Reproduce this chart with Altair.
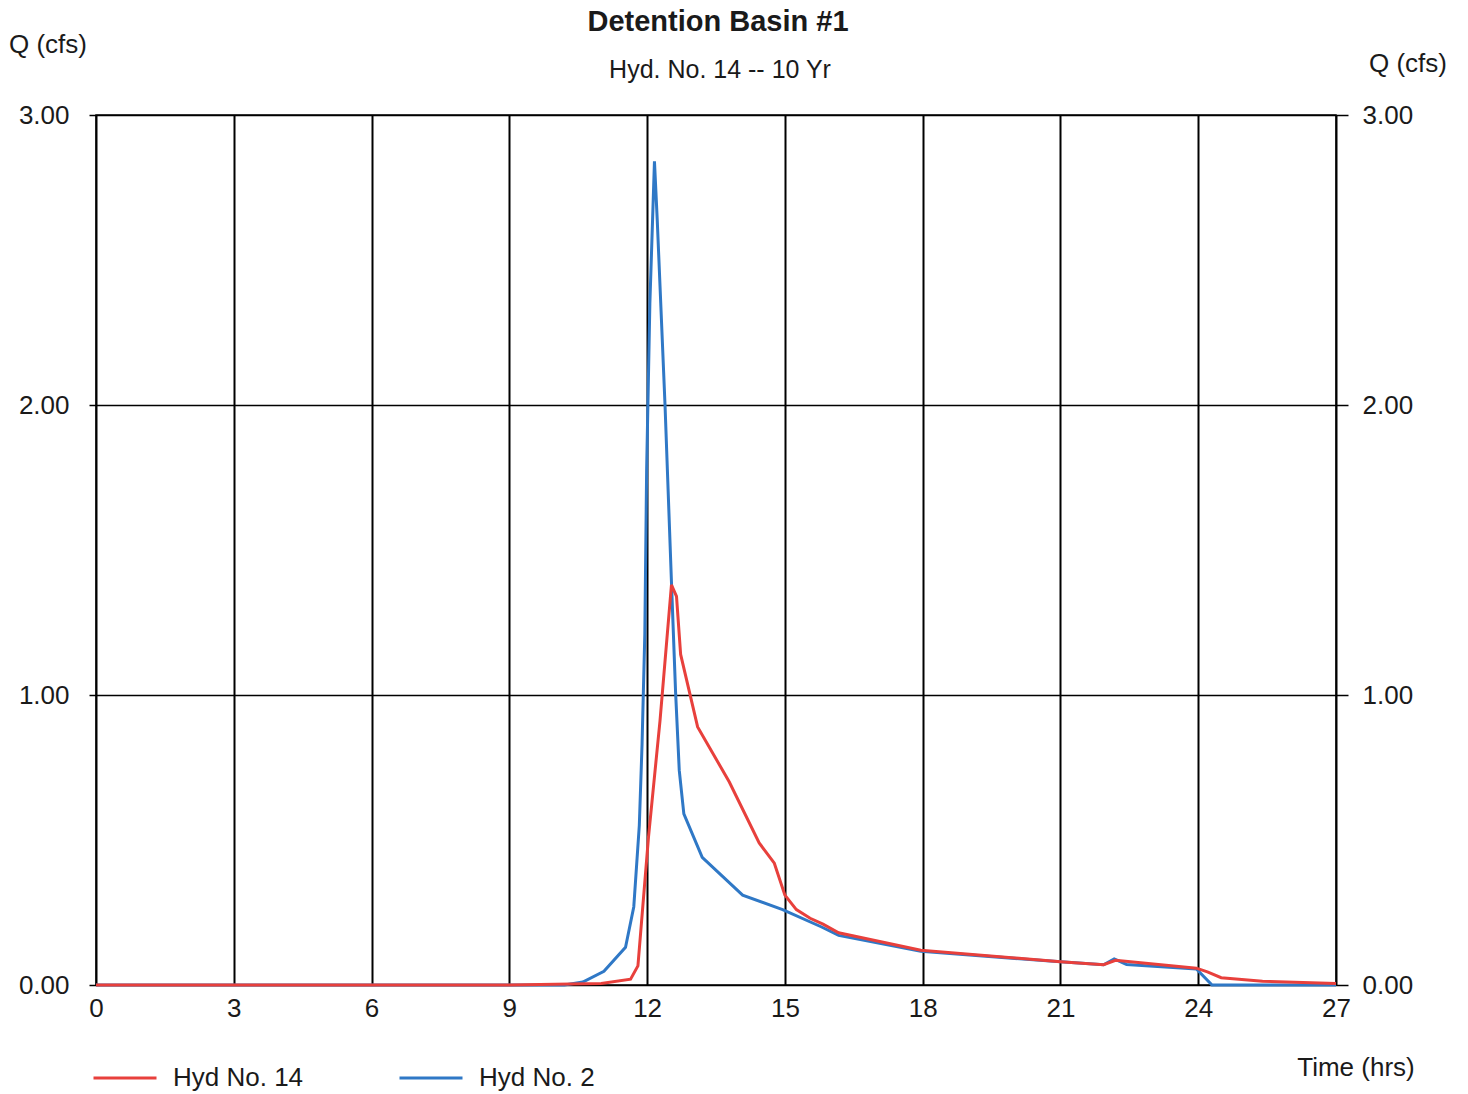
import altair as alt
import pandas as pd

# ---- data ----
series_names = ["Hyd No. 14", "Hyd No. 2"]
series_colors = ["#e8403c", "#2f78c6"]

hours_blue = [0, 3, 6, 9, 10.2, 10.6, 11.06, 11.53, 11.71, 11.83, 11.89, 11.95, 11.99,
              12.06, 12.16, 12.22, 12.39, 12.53, 12.62, 12.7, 12.8, 13.2, 14.08, 14.95,
              15.8, 16.17, 17.96, 21.0, 21.94, 22.17, 22.44, 23.96, 24.3, 27]
q_blue = [0, 0, 0, 0, 0, 0.01, 0.047, 0.13, 0.27, 0.55, 0.83, 1.21, 1.78,
          2.35, 2.84, 2.64, 2.0, 1.39, 1.01, 0.74, 0.59, 0.44, 0.31, 0.26,
          0.20, 0.171, 0.116, 0.08, 0.07, 0.09, 0.071, 0.055, 0.0, 0.0]

hours_red = [0, 9, 11.0, 11.64, 11.8, 12.03, 12.28, 12.53, 12.64, 12.73, 13.1, 13.79,
             14.44, 14.77, 15.0, 15.25, 15.55, 15.83, 16.17, 17.96, 21.0, 21.94, 22.2,
             23.96, 24.2, 24.5, 25.4, 27]
q_red = [0, 0, 0.005, 0.02, 0.066, 0.51, 0.91, 1.38, 1.34, 1.14, 0.89, 0.70,
         0.49, 0.42, 0.31, 0.26, 0.23, 0.21, 0.18, 0.12, 0.08, 0.07, 0.085,
         0.058, 0.045, 0.025, 0.013, 0.005]

x_ticks = [0, 3, 6, 9, 12, 15, 18, 21, 24, 27]
y_ticks = [0, 1, 2, 3]

title_text = "Detention Basin #1"
subtitle_text = "Hyd. No. 14 -- 10 Yr"
y_title = "Q (cfs)"
x_title = "Time (hrs)"

FONT = "Liberation Sans"
W, H = 1240, 870
TXT = "#1a1a1a"

df = pd.concat([
    pd.DataFrame({"hour": hours_blue, "q": q_blue, "series": series_names[1], "k": 0}),
    pd.DataFrame({"hour": hours_red, "q": q_red, "series": series_names[0], "k": 1}),
], ignore_index=True)

xscale = alt.Scale(domain=[0, 27], nice=False, zero=False)
yscale = alt.Scale(domain=[0, 3], nice=False, zero=True)
xaxis = alt.Axis(values=x_ticks, title=None, grid=True, gridColor="black",
                 gridWidth=2, gridOpacity=1, ticks=False, domain=False,
                 labelFont=FONT, labelFontSize=26, labelColor=TXT,
                 labelPadding=10, labelFlush=False)

lines = alt.Chart(df).mark_line(strokeWidth=3).encode(
    x=alt.X("hour:Q", scale=xscale, axis=xaxis),
    y=alt.Y("q:Q", scale=yscale,
            axis=alt.Axis(values=y_ticks, format=".2f", title=None, orient="left",
                          grid=True, gridColor="black", gridWidth=1.5, gridOpacity=1,
                          domain=False, ticks=True, tickSize=7, tickColor="black",
                          tickWidth=1.5, labelFont=FONT, labelFontSize=26,
                          labelColor=TXT, labelPadding=20, labelFlush=False)),
    color=alt.Color("series:N",
                    scale=alt.Scale(domain=series_names, range=series_colors),
                    legend=alt.Legend(title=None, orient="none", legendX=-4, legendY=930,
                                      direction="horizontal", symbolType="stroke",
                                      symbolSize=3969, symbolStrokeWidth=3,
                                      labelFont=FONT, labelFontSize=26, labelColor=TXT,
                                      labelOffset=15, columnPadding=89, padding=0)),
    detail="series:N",
    order="k:Q",
)

right_axis = alt.Chart(df).mark_line(opacity=0).encode(
    x=alt.X("hour:Q", scale=xscale, axis=xaxis),
    y=alt.Y("q:Q", scale=yscale,
            axis=alt.Axis(values=y_ticks, format=".2f", title=None, orient="right",
                          grid=False, domain=False, ticks=True, tickSize=12,
                          tickColor="black", tickWidth=1.5, labelFont=FONT,
                          labelFontSize=26, labelColor=TXT, labelPadding=14,
                          labelFlush=False)),
)

def label(txt, x, y, size=26, weight="normal"):
    return alt.Chart(pd.DataFrame({"t": [txt]})).mark_text(
        font=FONT, fontSize=size, fontWeight=weight, color=TXT,
        align="center", baseline="middle").encode(
        text="t:N", x=alt.value(x), y=alt.value(y))

title = label(title_text, 622, -93, 29, "bold")
sub = label(subtitle_text, 624, -45, 25)
ql = label(y_title, -48, -70)
qr = label(y_title, 1312, -51)
tl = label(x_title, 1260, 953)

chart = alt.layer(lines, right_axis, title, sub, ql, qr, tl).resolve_axis(
    y="independent"
).properties(
    width=W, height=H,
    autosize=alt.AutoSizeParams(type="none"),
    padding={"left": 96, "top": 115, "right": 132, "bottom": 109},
    background="white",
).configure_view(stroke="black", strokeWidth=1.5)

chart.save("out.html", embed_options={"renderer": "svg", "actions": False})
